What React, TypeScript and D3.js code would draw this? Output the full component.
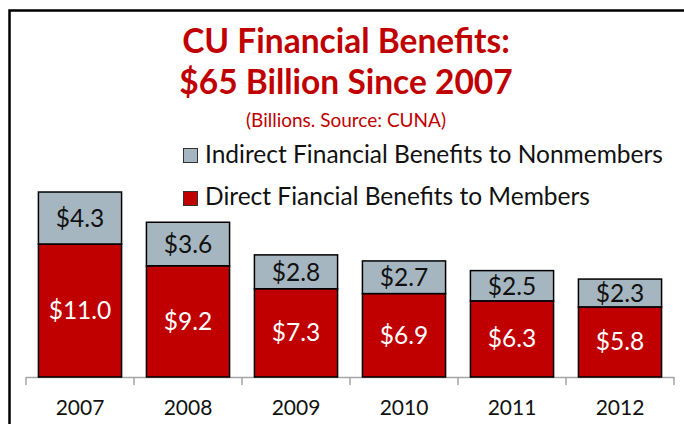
import * as d3 from "d3";
import { useEffect, useRef } from "react";

const W = 684;
const H = 424;

const years = ["2007", "2008", "2009", "2010", "2011", "2012"];
const direct = [11.0, 9.2, 7.3, 6.9, 6.3, 5.8];
const indirect = [4.3, 3.6, 2.8, 2.7, 2.5, 2.3];
const seriesNames = ["Indirect Financial Benefits to Nonmembers", "Direct Fiancial Benefits to Members"];
const titleLines = ["CU Financial Benefits:", "$65 Billion Since 2007"];
const subtitle = "(Billions. Source: CUNA)";

const RED = "#c00000";
const GRAY = "#a6b6c0";
const FONT = "Lato, 'Open Sans', sans-serif";

export default function App() {
  const svgRef = useRef<SVGSVGElement>(null);

  useEffect(() => {
    const svg = d3.select(svgRef.current);
    svg.selectAll("*").remove();

    // outer frame (only top and left visible in the crop)
    svg.append("rect")
      .attr("x", 9.5).attr("y", 10.5)
      .attr("width", 800).attr("height", 600)
      .attr("fill", "white")
      .attr("stroke", "#000")
      .attr("stroke-width", 2.5);

    const x = d3.scaleBand<string>()
      .domain(years)
      .range([26, 674])
      .paddingInner(0.23)
      .paddingOuter(0.115);

    const y = d3.scaleLinear().domain([0, 16]).range([377, 377 - 16 * 12.09]);

    const rows = years.map((yr, i) => ({ yr, d: direct[i], n: indirect[i] }));

    // title
    svg.selectAll(".title")
      .data(titleLines)
      .enter()
      .append("text")
      .attr("x", 346)
      .attr("y", (d, i) => 53 + i * 41)
      .attr("text-anchor", "middle")
      .style("font-family", FONT)
      .style("font-weight", "bold")
      .style("font-size", "33.5px")
      .style("fill", RED)
      .text(d => d);

    svg.append("text")
      .attr("x", 346).attr("y", 127)
      .attr("text-anchor", "middle")
      .style("font-family", FONT)
      .style("font-size", "19px")
      .style("fill", RED)
      .text(subtitle);

    // legend
    const legend = svg.append("g");
    [GRAY, RED].forEach((c, i) => {
      legend.append("rect")
        .attr("x", 183.5).attr("y", 148.5 + i * 43)
        .attr("width", 14).attr("height", 14)
        .attr("fill", c)
        .attr("stroke", "#333")
        .attr("stroke-width", 1);
      legend.append("text")
        .attr("x", 205).attr("y", 163 + i * 42)
        .style("font-family", FONT)
        .style("font-size", "24.5px")
        .style("fill", "#111")
        .text(seriesNames[i]);
    });

    // axis
    const axis = svg.append("g");
    axis.append("line")
      .attr("x1", 26).attr("x2", 674)
      .attr("y1", 377.5).attr("y2", 377.5)
      .attr("stroke", "#a6a6a6").attr("stroke-width", 1.5);
    const step = x.step();
    const tickX = years.map(yr => (x(yr) as number) - step * 0.115).concat([674]);
    axis.selectAll(".tick")
      .data(tickX)
      .enter()
      .append("line")
      .attr("x1", d => d).attr("x2", d => d)
      .attr("y1", 377).attr("y2", 385)
      .attr("stroke", "#a6a6a6").attr("stroke-width", 1.5);

    axis.selectAll(".yr")
      .data(years)
      .enter()
      .append("text")
      .attr("x", d => (x(d) as number) + x.bandwidth() / 2)
      .attr("y", 415)
      .attr("text-anchor", "middle")
      .style("font-family", FONT)
      .style("font-size", "21px")
      .style("fill", "#111")
      .text(d => d);

    // bars
    const bars = svg.append("g").selectAll("g").data(rows).enter().append("g");

    bars.append("rect")
      .attr("x", d => x(d.yr) as number)
      .attr("y", d => y(d.d))
      .attr("width", x.bandwidth())
      .attr("height", d => y(0) - y(d.d))
      .attr("fill", RED)
      .attr("stroke", "#000")
      .attr("stroke-width", 1.5);

    bars.append("rect")
      .attr("x", d => x(d.yr) as number)
      .attr("y", d => y(d.d + d.n))
      .attr("width", x.bandwidth())
      .attr("height", d => y(d.d) - y(d.d + d.n))
      .attr("fill", GRAY)
      .attr("stroke", "#000")
      .attr("stroke-width", 1.5);

    bars.append("text")
      .attr("x", d => (x(d.yr) as number) + x.bandwidth() / 2)
      .attr("y", d => (y(0) + y(d.d)) / 2 + 8.5)
      .attr("text-anchor", "middle")
      .style("font-family", FONT)
      .style("font-size", "24.5px")
      .style("fill", "#fff")
      .text(d => "$" + d.d.toFixed(1));

    bars.append("text")
      .attr("x", d => (x(d.yr) as number) + x.bandwidth() / 2)
      .attr("y", d => (y(d.d) + y(d.d + d.n)) / 2 + 9)
      .attr("text-anchor", "middle")
      .style("font-family", FONT)
      .style("font-size", "24.5px")
      .style("fill", "#111")
      .text(d => "$" + d.n.toFixed(1));
  }, []);

  return (
    <div style={{ position: "fixed", left: 0, top: 0, width: W, height: H, background: "#fff" }}>
      <svg ref={svgRef} width={W} height={H} style={{ display: "block" }}></svg>
    </div>
  );
}
